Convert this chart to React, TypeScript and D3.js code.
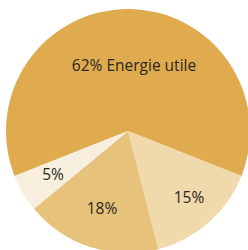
import React from "react";
import * as d3 from "d3";

const labels = ["62% Energie utile", "15%", "18%", "5%"];
const values = [62, 15, 18, 5];
const colors = ["#dfab4e", "#f0d9aa", "#e6c27a", "#f7eedd"];
const labelPos: [number, number][] = [
  [134, 71],
  [189, 203],
  [102, 214],
  [53, 180],
];

export default function App() {
  const W = 248, H = 250;
  const cx = 128, cy = 131, r = 122;
  const total = d3.sum(values);
  const start = -(values[0] / total) * Math.PI;
  const pie = d3
    .pie<number>()
    .sort(null)
    .value((d) => d)
    .startAngle(start)
    .endAngle(start + 2 * Math.PI);
  const arcs = pie(values);
  const arc = d3.arc<d3.PieArcDatum<number>>().innerRadius(0).outerRadius(r);
  return (
    <svg
      width={W}
      height={H}
      style={{ position: "absolute", left: 0, top: 0, background: "#fff" }}
    >
      <g transform={`translate(${cx},${cy})`}>
        {arcs.map((a, i) => (
          <path key={i} d={arc(a) || ""} fill={colors[i]} />
        ))}
      </g>
      {labels.map((t, i) => (
        <text
          key={i}
          x={labelPos[i][0]}
          y={labelPos[i][1]}
          textAnchor="middle"
          fontFamily="'Open Sans', sans-serif"
          fontSize={15.5}
          fill="#2b2722"
        >
          {t}
        </text>
      ))}
    </svg>
  );
}
